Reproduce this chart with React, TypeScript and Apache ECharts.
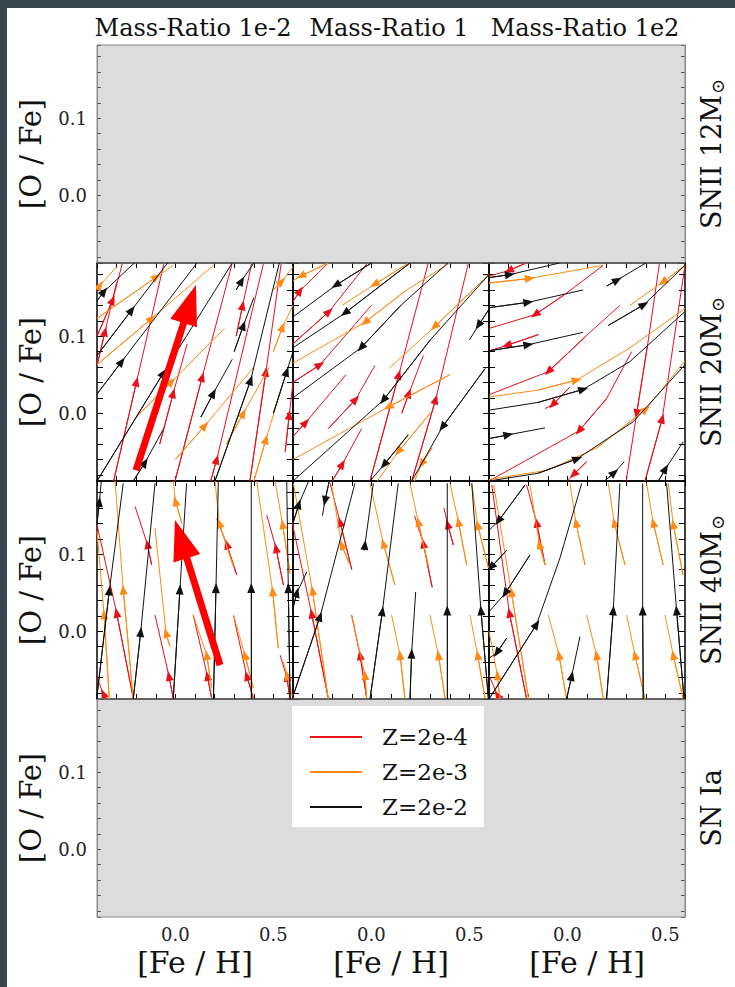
import React, { useEffect, useRef } from 'react';
import * as echarts from 'echarts';

type Pt = [number, number];
type Stream = [number, Pt[]]; // [index of the arrow point, points in flow order]

// ---------- texts ----------
const colTitles = ['Mass-Ratio 1e-2', 'Mass-Ratio 1', 'Mass-Ratio 1e2'];
const rowNames = ['SNII 12M', 'SNII 20M', 'SNII 40M', 'SN Ia'];
const rowHasSun = [true, true, true, false];
const metallicities = ['Z=2e-4', 'Z=2e-3', 'Z=2e-2'];
const xLabel = '[Fe / H]';
const yLabel = '[O / Fe]';
const xTickLabels = [0.0, 0.5];
const yTickLabels = [0.0, 0.1];
const xRange: Pt = [-0.4, 0.6];
const yRange: Pt = [-0.088, 0.195];

// ---------- SNII 20 Msun, mass ratio 1e-2 ----------
const s20a_red: Stream[] = [
  [1, [[-0.40, 0.100], [-0.320, 0.147], [-0.270, 0.195]]],
  [1, [[-0.40, 0.062], [-0.359, 0.106], [-0.300, 0.170]]],
  [1, [[-0.315, -0.088], [-0.198, 0.041], [-0.058, 0.195]]],
  [1, [[-0.080, -0.040], [-0.011, 0.026], [0.060, 0.090]]],
  [1, [[-0.002, -0.088], [0.137, 0.047], [0.290, 0.195]]],
  [1, [[0.180, -0.088], [0.211, -0.060], [0.450, 0.195]]],
  [1, [[0.310, 0.100], [0.343, 0.140], [0.390, 0.195]]],
  [1, [[0.380, -0.088], [0.462, 0.054], [0.540, 0.195]]],
  [1, [[0.560, -0.050], [0.581, -0.002], [0.600, 0.040]]],
];
const s20a_orange: Stream[] = [
  [1, [[-0.40, 0.160], [-0.385, 0.166], [-0.300, 0.190]]],
  [1, [[-0.40, 0.123], [-0.096, 0.177], [-0.011, 0.192]]],
  [1, [[-0.40, 0.063], [-0.121, 0.123], [0.194, 0.192]]],
  [1, [[-0.200, -0.005], [-0.019, 0.041], [0.250, 0.110]]],
  [1, [[0.000, -0.060], [0.151, -0.016], [0.400, 0.060]]],
  [1, [[0.260, -0.040], [0.347, 0.000], [0.480, 0.060]]],
  [1, [[0.400, -0.088], [0.462, -0.034], [0.550, 0.040]]],
  [1, [[0.500, 0.080], [0.547, 0.112], [0.600, 0.140]]],
  [1, [[0.500, 0.160], [0.542, 0.171], [0.600, 0.190]]],
];
const s20a_black: Stream[] = [
  [1, [[-0.40, 0.146], [-0.364, 0.158], [-0.210, 0.195]]],
  [1, [[-0.40, 0.075], [-0.223, 0.134], [-0.040, 0.195]]],
  [1, [[-0.40, 0.025], [-0.274, 0.067], [0.110, 0.195]]],
  [1, [[-0.40, -0.088], [-0.062, 0.052], [0.290, 0.195]]],
  [1, [[-0.215, -0.088], [-0.155, -0.064], [-0.060, -0.020]]],
  [1, [[0.130, -0.005], [0.194, 0.026], [0.290, 0.070]]],
  [1, [[0.202, -0.088], [0.384, 0.043], [0.530, 0.195]]],
  [1, [[0.300, 0.080], [0.347, 0.114], [0.400, 0.150]]],
  [1, [[0.310, 0.160], [0.338, 0.172], [0.400, 0.195]]],
  [1, [[0.500, 0.000], [0.568, 0.054], [0.600, 0.080]]],
];

// ---------- SNII 20 Msun, mass ratio 1 ----------
const s20b_red: Stream[] = [
  [1, [[-0.40, 0.145], [-0.364, 0.159], [-0.220, 0.195]]],
  [1, [[-0.40, 0.090], [-0.216, 0.132], [-0.020, 0.195]]],
  [1, [[-0.40, 0.040], [-0.262, 0.063], [0.000, 0.140]]],
  [1, [[-0.220, -0.020], [-0.080, 0.018], [0.018, 0.062]]],
  [1, [[-0.40, -0.030], [-0.335, -0.012], [-0.130, 0.050]]],
  [1, [[-0.200, -0.088], [-0.148, -0.066], [-0.050, -0.020]]],
  [1, [[0.155, 0.000], [0.192, 0.026], [0.265, 0.075]]],
  [1, [[0.206, -0.088], [0.328, 0.018], [0.495, 0.195]]],
  [1, [[-0.007, -0.088], [0.140, 0.050], [0.290, 0.195]]],
];
const s20b_orange: Stream[] = [
  [1, [[0.190, 0.195], [0.015, 0.167], [-0.150, 0.140]]],
  [2, [[0.400, 0.195], [0.180, 0.160], [-0.033, 0.118], [-0.400, 0.065]]],
  [1, [[0.600, 0.180], [0.321, 0.112], [0.090, 0.058]]],
  [1, [[0.400, 0.050], [0.086, 0.008], [-0.400, -0.060]]],
  [1, [[0.300, 0.000], [0.137, -0.050], [0.030, -0.088]]],
  [1, [[0.310, -0.045], [0.256, -0.066], [0.220, -0.088]]],
  [1, [[-0.220, 0.195], [-0.360, 0.178], [-0.400, 0.172]]],
];
const s20b_black: Stream[] = [
  [1, [[0.000, 0.195], [-0.182, 0.166], [-0.400, 0.125]]],
  [1, [[0.197, 0.195], [-0.135, 0.130], [-0.400, 0.085]]],
  [2, [[0.390, 0.195], [0.150, 0.140], [-0.053, 0.085], [-0.400, 0.020]]],
  [2, [[0.600, 0.180], [0.300, 0.095], [0.061, 0.017], [-0.400, -0.088]]],
  [1, [[0.580, 0.058], [0.362, -0.018], [0.206, -0.088]]],
  [1, [[0.188, -0.028], [0.064, -0.067], [-0.007, -0.088]]],
  [1, [[0.600, 0.135], [0.546, 0.114], [0.500, 0.095]]],
];

// ---------- SNII 20 Msun, mass ratio 1e2 ----------
const s20c_red: Stream[] = [
  [1, [[-0.210, 0.195], [-0.300, 0.185], [-0.400, 0.178]]],
  [2, [[0.183, 0.192], [-0.020, 0.153], [-0.165, 0.128], [-0.400, 0.110]]],
  [1, [[-0.148, 0.102], [-0.310, 0.088], [-0.400, 0.081]]],
  [2, [[0.268, 0.140], [0.098, 0.101], [-0.097, 0.054], [-0.400, 0.024]]],
  [1, [[0.013, 0.034], [-0.075, 0.011], [-0.114, 0.006]]],
  [2, [[0.328, 0.080], [0.200, 0.019], [0.059, -0.023], [-0.400, -0.088]]],
  [2, [[0.470, 0.195], [0.410, 0.090], [0.353, -0.001], [0.300, -0.088]]],
  [1, [[0.396, -0.088], [0.484, -0.007], [0.600, 0.192]]],
  [1, [[0.098, -0.063], [0.030, -0.080], [0.000, -0.088]]],
];
const s20c_orange: Stream[] = [
  [1, [[-0.40, 0.169], [-0.191, 0.175], [0.180, 0.192]]],
  [2, [[-0.40, 0.021], [-0.150, 0.030], [0.047, 0.043], [0.320, 0.085], [0.600, 0.136]]],
  [1, [[0.600, 0.192], [0.486, 0.170], [0.319, 0.140]]],
  [3, [[-0.40, -0.086], [-0.100, -0.074], [0.150, -0.045], [0.400, 0.005], [0.600, 0.068]]],
];
const s20c_black: Stream[] = [
  [1, [[-0.40, 0.176], [-0.293, 0.180], [-0.040, 0.195]]],
  [1, [[-0.40, 0.137], [-0.199, 0.144], [0.080, 0.160]]],
  [1, [[-0.40, 0.081], [-0.199, 0.089], [0.080, 0.105]]],
  [2, [[-0.40, 0.004], [-0.150, 0.014], [0.081, 0.031], [0.319, 0.067], [0.600, 0.132]]],
  [1, [[-0.40, -0.033], [-0.301, -0.028], [-0.114, -0.019]]],
  [2, [[-0.40, -0.088], [-0.150, -0.078], [0.051, -0.059], [0.336, -0.011], [0.600, 0.063]]],
  [1, [[0.200, 0.165], [0.255, 0.173], [0.400, 0.195]]],
  [1, [[0.209, 0.114], [0.391, 0.141], [0.600, 0.192]]],
  [1, [[0.190, -0.088], [0.240, -0.077], [0.290, -0.063]]],
  [1, [[0.464, -0.088], [0.501, -0.072], [0.591, -0.037]]],
];

// ---------- SNII 40 Msun, mass ratio 1e-2 ----------
const s40a_red: Stream[] = [
  [1, [[-0.121, 0.086], [-0.143, 0.113], [-0.206, 0.162]]],
  [1, [[-0.215, -0.087], [-0.300, 0.024], [-0.400, 0.138]]],
  [1, [[-0.011, -0.087], [-0.033, -0.058], [-0.104, 0.021]]],
  [1, [[0.185, -0.087], [0.163, -0.058], [0.091, 0.021]]],
  [1, [[0.398, -0.087], [0.364, -0.058], [0.296, 0.021]]],
  [1, [[0.313, 0.073], [0.262, 0.113], [0.211, 0.146]]],
  [1, [[0.551, 0.060], [0.513, 0.108], [0.466, 0.151]]],
  [1, [[-0.355, -0.088], [-0.368, -0.081], [-0.400, -0.060]]],
  [1, [[0.585, -0.088], [0.568, -0.059], [0.534, -0.031]]],
];
const s40a_orange: Stream[] = [
  [1, [[-0.215, -0.088], [-0.266, 0.054], [-0.308, 0.195]]],
  [1, [[-0.337, -0.088], [-0.364, 0.022], [-0.400, 0.130]]],
  [1, [[-0.028, -0.020], [-0.048, -0.002], [-0.104, 0.134]]],
  [1, [[0.033, 0.140], [0.000, 0.169], [-0.011, 0.195]]],
  [1, [[0.296, 0.084], [0.224, 0.140], [0.202, 0.195]]],
  [1, [[0.585, 0.075], [0.547, 0.139], [0.508, 0.195]]],
  [1, [[0.185, -0.074], [0.160, -0.031], [0.091, 0.021]]],
  [1, [[0.398, -0.074], [0.355, -0.031], [0.296, 0.021]]],
  [1, [[0.525, -0.022], [0.496, 0.052], [0.415, 0.195]]],
  [1, [[0.600, -0.088], [0.570, -0.057], [0.550, -0.040]]],
];
const s40a_black: Stream[] = [
  [1, [[-0.402, -0.088], [-0.337, 0.053], [-0.266, 0.192]]],
  [1, [[-0.400, 0.140], [-0.388, 0.168], [-0.378, 0.195]]],
  [1, [[-0.215, -0.088], [-0.177, -0.001], [-0.104, 0.192]]],
  [1, [[-0.011, -0.088], [0.023, 0.054], [0.057, 0.192]]],
  [1, [[0.194, -0.088], [0.207, 0.056], [0.219, 0.195]]],
  [1, [[0.387, -0.088], [0.387, 0.056], [0.387, 0.195]]],
  [1, [[0.585, -0.088], [0.576, 0.056], [0.568, 0.195]]],
];

// ---------- SNII 40 Msun, mass ratio 1 ----------
const s40b_red: Stream[] = [
  [1, [[-0.100, 0.080], [-0.160, 0.142], [-0.211, 0.192]]],
  [1, [[0.310, 0.057], [0.265, 0.114], [0.220, 0.150]]],
  [1, [[0.418, 0.112], [0.389, 0.139], [0.370, 0.160]]],
  [1, [[-0.220, -0.087], [-0.305, 0.023], [-0.405, 0.142]]],
  [1, [[-0.024, -0.087], [-0.058, -0.031], [-0.101, 0.021]]],
];
const s40b_orange: Stream[] = [
  [1, [[-0.220, -0.088], [-0.301, 0.053], [-0.398, 0.192]]],
  [1, [[0.120, 0.060], [0.061, 0.114], [-0.007, 0.192]]],
  [1, [[0.290, 0.086], [0.239, 0.142], [0.197, 0.192]]],
  [1, [[0.486, 0.086], [0.444, 0.142], [0.401, 0.192]]],
  [1, [[0.597, 0.082], [0.542, 0.138], [0.512, 0.192]]],
  [1, [[0.171, -0.087], [0.146, -0.031], [0.103, 0.021]]],
  [1, [[0.376, -0.087], [0.342, -0.031], [0.299, 0.021]]],
  [1, [[0.580, -0.087], [0.542, -0.031], [0.503, 0.021]]],
  [1, [[-0.024, -0.087], [-0.033, -0.057], [-0.101, 0.021]]],
  [1, [[-0.109, 0.086], [-0.152, 0.112], [-0.203, 0.190]]],
];
const s40b_black: Stream[] = [
  [1, [[-0.405, -0.088], [-0.262, 0.019], [-0.084, 0.192]]],
  [1, [[-0.007, -0.088], [0.056, 0.026], [0.137, 0.192]]],
  [1, [[0.197, -0.088], [0.205, -0.029], [0.226, 0.051]]],
  [1, [[0.387, -0.088], [0.387, 0.027], [0.387, 0.192]]],
  [1, [[0.597, -0.088], [0.559, 0.027], [0.512, 0.192]]],
  [1, [[-0.036, 0.105], [-0.033, 0.112], [0.010, 0.192]]],
  [1, [[-0.400, 0.140], [-0.370, 0.165], [-0.320, 0.195]]],
  [1, [[-0.405, 0.025], [-0.380, 0.050], [-0.330, 0.077]]],
  [1, [[-0.215, 0.195], [-0.237, 0.169], [-0.250, 0.150]]],
];

// ---------- SNII 40 Msun, mass ratio 1e2 ----------
const s40c_red: Stream[] = [
  [1, [[-0.114, 0.086], [-0.157, 0.141], [-0.208, 0.190]]],
  [1, [[-0.208, -0.088], [-0.296, 0.024], [-0.386, 0.190]]],
  [1, [[-0.344, -0.088], [-0.357, -0.083], [-0.400, -0.057]]],
];
const s40c_orange: Stream[] = [
  [1, [[-0.114, 0.086], [-0.143, 0.113], [-0.191, 0.190]]],
  [1, [[0.090, 0.086], [0.044, 0.141], [0.013, 0.192]]],
  [1, [[0.294, 0.086], [0.239, 0.141], [0.209, 0.192]]],
  [1, [[0.489, 0.086], [0.438, 0.141], [0.404, 0.192]]],
  [1, [[0.590, 0.073], [0.540, 0.139], [0.515, 0.192]]],
  [1, [[-0.198, -0.088], [-0.286, 0.051], [-0.376, 0.190]]],
  [1, [[-0.004, -0.088], [-0.043, -0.031], [-0.097, 0.021]]],
  [1, [[0.183, -0.088], [0.149, -0.031], [0.098, 0.021]]],
  [1, [[0.396, -0.088], [0.345, -0.031], [0.302, 0.021]]],
  [1, [[0.591, -0.088], [0.540, -0.031], [0.498, 0.021]]],
  [1, [[-0.344, -0.088], [-0.357, -0.057], [-0.400, 0.000]]],
];
const s40c_black: Stream[] = [
  [1, [[-0.216, 0.190], [-0.352, 0.143], [-0.400, 0.131]]],
  [1, [[-0.310, 0.105], [-0.390, 0.083], [-0.400, 0.081]]],
  [1, [[-0.191, 0.099], [-0.318, 0.049], [-0.400, 0.025]]],
  [1, [[-0.400, -0.088], [-0.157, 0.009], [-0.038, 0.095], [0.073, 0.192]]],
  [1, [[-0.004, -0.088], [0.022, -0.058], [0.064, -0.007]]],
  [1, [[0.200, -0.088], [0.234, 0.027], [0.268, 0.192]]],
  [1, [[0.387, -0.088], [0.384, 0.027], [0.384, 0.192]]],
  [1, [[0.595, -0.088], [0.557, 0.027], [0.506, 0.192]]],
  [1, [[-0.310, -0.009], [-0.360, -0.028], [-0.400, -0.035]]],
];

// highlighted (annotation) arrows, data coords of tail and head
const highlightArrowsRow2: Pt[][] = [[[-0.201, -0.074], [0.0735, 0.1418]]];
const highlightArrowsRow3: Pt[][] = [[[0.2276, -0.044], [0.028, 0.1195]]];

// ---------- layout / style ----------
const FONT = 'DejaVu Serif';
const COL_LEFT = [97, 293, 489];
const ROW_TOP = [45, 263, 481, 699];
const CW = 196;
const RH = 218;
const LINE_COLORS = ['#e8101a', '#ff8a14', '#111111'];
const GRAY = '#dcdcdc';

const streamPanels: { row: number; col: number; sets: Stream[][] }[] = [
  { row: 1, col: 0, sets: [s20a_red, s20a_orange, s20a_black] },
  { row: 1, col: 1, sets: [s20b_red, s20b_orange, s20b_black] },
  { row: 1, col: 2, sets: [s20c_red, s20c_orange, s20c_black] },
  { row: 2, col: 0, sets: [s40a_red, s40a_orange, s40a_black] },
  { row: 2, col: 1, sets: [s40b_red, s40b_orange, s40b_black] },
  { row: 2, col: 2, sets: [s40c_red, s40c_orange, s40c_black] },
];

const near = (a: number, b: number) => Math.abs(a - b) < 1e-9;
const fmtX = (v: number) => {
  const hit = xTickLabels.find((t) => near(t, v));
  return hit === undefined ? '' : hit.toFixed(1);
};
const fmtY = (v: number) => {
  const hit = yTickLabels.find((t) => near(t, v));
  return hit === undefined ? '' : hit.toFixed(1);
};

function buildOption() {
  const grid: any[] = [];
  const xAxis: any[] = [];
  const yAxis: any[] = [];
  const series: any[] = [];
  for (let r = 0; r < 4; r++) {
    for (let c = 0; c < 3; c++) {
      const g = r * 3 + c;
      const isStream = r === 1 || r === 2;
      const isGray = !isStream;
      grid.push({
        left: COL_LEFT[c], top: ROW_TOP[r], width: CW, height: RH,
        show: isGray, backgroundColor: GRAY, borderWidth: 0,
      });
      const frameLine = { show: isStream, onZero: false, lineStyle: { color: '#000', width: 1.5 } };
      const tick = (show: boolean, len: number) => ({
        show, inside: true, length: len, lineStyle: { color: isStream ? '#000' : '#555', width: 1 },
      });
      xAxis.push({
        gridIndex: g, type: 'value', min: xRange[0], max: xRange[1], interval: 0.1, position: 'bottom',
        axisLine: frameLine, axisTick: tick(isStream, 5), splitLine: { show: false },
        axisLabel: { show: r === 3, formatter: fmtX, fontFamily: FONT, fontSize: 18, color: '#222', margin: 8 },
      });
      xAxis.push({
        gridIndex: g, type: 'value', min: xRange[0], max: xRange[1], interval: 0.1, position: 'top',
        axisLine: frameLine, axisTick: tick(isStream, 5), splitLine: { show: false }, axisLabel: { show: false },
      });
      const leftShow = isStream || c === 0;
      const rightShow = isStream || c === 2;
      yAxis.push({
        gridIndex: g, type: 'value', min: yRange[0], max: yRange[1], splitNumber: 14, position: 'left',
        axisLine: { show: leftShow, onZero: false, lineStyle: { color: isStream ? '#000' : '#8a8a8a', width: isStream ? 1.5 : 1 } },
        axisTick: tick(leftShow, isStream ? 6 : 4), splitLine: { show: false },
        axisLabel: { show: c === 0, formatter: fmtY, fontFamily: FONT, fontSize: 18, color: '#222', margin: 10 },
      });
      yAxis.push({
        gridIndex: g, type: 'value', min: yRange[0], max: yRange[1], splitNumber: 14, position: 'right',
        axisLine: { show: rightShow, onZero: false, lineStyle: { color: isStream ? '#000' : '#8a8a8a', width: isStream ? 1.5 : 1 } },
        axisTick: tick(rightShow, isStream ? 6 : 4), splitLine: { show: false }, axisLabel: { show: false },
      });
    }
  }

  streamPanels.forEach(({ row, col, sets }) => {
    const g = row * 3 + col;
    sets.forEach((streams, k) => {
      const color = LINE_COLORS[k];
      const common = {
        type: 'lines', name: metallicities[k], coordinateSystem: 'cartesian2d',
        xAxisIndex: 2 * g, yAxisIndex: 2 * g, clip: true, silent: true, color,
        itemStyle: { color }, z: 3 + k,
      };
      series.push({
        ...common, polyline: true, symbol: 'none',
        lineStyle: { color, width: 1, opacity: 1 },
        data: streams.map(([, p]) => ({ coords: p })),
      });
      series.push({
        ...common, polyline: false, symbol: ['none', 'triangle'], symbolSize: [[8, 10], [8, 10]],
        lineStyle: { color, width: 1, opacity: 1 },
        data: streams.map(([a, p]) => ({ coords: [p[a - 1], p[a]] })),
      });
    });
  });

  const bigArrow = (g: number, arrows: Pt[][]) => ({
    type: 'lines', coordinateSystem: 'cartesian2d', xAxisIndex: 2 * g, yAxisIndex: 2 * g,
    polyline: false, silent: true, z: 10, symbol: ['none', 'triangle'], symbolSize: [[28, 40], [28, 40]],
    lineStyle: { color: '#ff0000', width: 7, opacity: 1, cap: 'butt' }, itemStyle: { color: '#ff0000' },
    data: arrows.map((a) => ({ coords: a })),
  });
  series.push(bigArrow(3, highlightArrowsRow2));
  series.push(bigArrow(6, highlightArrowsRow3));

  const graphic: any[] = [
    { type: 'rect', shape: { x: 0, y: 0, width: 7, height: 987 }, style: { fill: '#37474f' }, z: 100 },
    { type: 'rect', shape: { x: 0, y: 0, width: 735, height: 8 }, style: { fill: '#37474f' }, z: 100 },
    { type: 'rect', shape: { x: COL_LEFT[0], y: ROW_TOP[0], width: 3 * CW, height: RH }, style: { fill: 'none', stroke: '#8a8a8a', lineWidth: 1 }, z: 5 },
    { type: 'rect', shape: { x: COL_LEFT[0], y: ROW_TOP[3], width: 3 * CW, height: RH }, style: { fill: 'none', stroke: '#8a8a8a', lineWidth: 1 }, z: 5 },
  ];
  colTitles.forEach((t, c) => {
    graphic.push({ type: 'text', x: COL_LEFT[c] + CW / 2 - 2, y: 28, z: 20,
      style: { text: t, fontFamily: FONT, fontSize: 24, fill: '#111', textAlign: 'center', textVerticalAlign: 'middle' } });
    graphic.push({ type: 'text', x: COL_LEFT[c] + CW / 2, y: 962, z: 20,
      style: { text: xLabel, fontFamily: FONT, fontSize: 30, fill: '#111', textAlign: 'center', textVerticalAlign: 'middle' } });
  });
  rowNames.forEach((t, r) => {
    const cy = ROW_TOP[r] + RH / 2;
    graphic.push({ type: 'text', x: 31, y: cy, rotation: Math.PI / 2, z: 20,
      style: { text: yLabel, fontFamily: FONT, fontSize: 29, fill: '#111', textAlign: 'center', textVerticalAlign: 'middle' } });
    graphic.push({ type: 'text', x: 711, y: cy, rotation: Math.PI / 2, z: 20,
      style: {
        text: rowHasSun[r] ? t + '{sun|⊙}' : t,
        fontFamily: FONT, fontSize: 27, fill: '#111', textAlign: 'center', textVerticalAlign: 'middle',
        rich: { sun: { fontFamily: FONT, fontSize: 18, fill: '#111', padding: [12, 0, 0, 1] } },
      } });
  });

  return {
    animation: false,
    backgroundColor: '#ffffff',
    grid, xAxis, yAxis, series, graphic,
    legend: {
      data: metallicities.map((n, k) => ({ name: n, icon: 'rect', itemStyle: { color: LINE_COLORS[k], borderWidth: 0 } })),
      orient: 'vertical', left: 292, top: 706, itemWidth: 52, itemHeight: 2, itemGap: 11,
      padding: [19, 16, 8, 18], backgroundColor: '#ffffff', selectedMode: false, z: 30,
      textStyle: { fontFamily: FONT, fontSize: 23, color: '#111', padding: [0, 0, 0, 15], lineHeight: 24 },
    },
  };
}

export default function App() {
  const ref = useRef<HTMLDivElement>(null);
  useEffect(() => {
    if (!ref.current) return;
    const chart = echarts.init(ref.current, undefined, { renderer: 'svg', width: 735, height: 987 });
    chart.setOption(buildOption() as any);
    return () => chart.dispose();
  }, []);
  return (
    <div
      ref={ref}
      style={{ position: 'fixed', left: 0, top: 0, width: 735, height: 987, background: '#fff' }}
    />
  );
}
